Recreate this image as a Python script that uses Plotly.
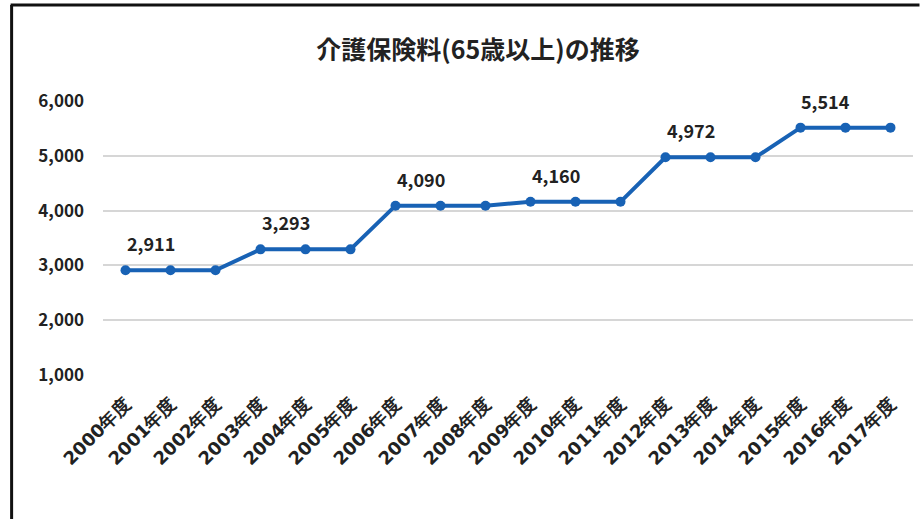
import plotly.graph_objects as go

years = [f"{y}年度" for y in range(2000, 2018)]
premiums = [2911, 2911, 2911, 3293, 3293, 3293, 4090, 4090, 4090,
            4160, 4160, 4160, 4972, 4972, 4972, 5514, 5514, 5514]
label_idx = [0, 3, 6, 9, 12, 15]
y_ticks = [1000, 2000, 3000, 4000, 5000, 6000]

FONT = "Noto Sans CJK JP"
BLUE = "#1862b5"

fig = go.Figure()
fig.add_trace(go.Scatter(
    x=years, y=premiums, mode="lines+markers",
    line=dict(color=BLUE, width=4),
    marker=dict(color=BLUE, size=10),
    showlegend=False, hoverinfo="x+y",
))

for i in label_idx:
    fig.add_annotation(
        x=years[i], y=premiums[i], text=f"{premiums[i]:,}",
        showarrow=False, xshift=25, yshift=27,
        font=dict(family=FONT, size=18, color="#222222", weight="bold"),
    )

# frame lines (left and top) like the cropped screenshot border
PX0, PW, PY0, PH = 102.5, 811, 101, 274
def px(x):
    return (x - PX0) / PW
def py(y):
    return 1 - (y - PY0) / PH

fig.add_shape(type="line", xref="paper", yref="paper",
              x0=px(11), x1=px(11), y0=py(519), y1=py(5),
              line=dict(color="#111111", width=3))
fig.add_shape(type="line", xref="paper", yref="paper",
              x0=px(10), x1=px(920), y0=py(5), y1=py(5),
              line=dict(color="#111111", width=3))

fig.update_layout(
    width=920, height=519,
    margin=dict(l=102.5, r=6.5, t=101, b=144),
    paper_bgcolor="white", plot_bgcolor="white",
    title=dict(text="介護保険料(65歳以上)の推移", x=478 / 920, xanchor="center",
               y=1 - 50 / 519, yanchor="middle", yref="container",
               font=dict(family=FONT, size=25, color="#222222", weight="bold")),
    xaxis=dict(
        type="category", tickangle=-45, showgrid=False, showline=False,
        ticks="", zeroline=False, range=[-0.5, 17.5],
        ticklabelstandoff=14,
        tickfont=dict(family="DejaVu Sans", size=18,
                      color="#222222", weight="bold"),
    ),
    yaxis=dict(
        range=[1000, 6000], tickvals=y_ticks, tickformat=",",
        showgrid=True, gridcolor="#d6d6d6", gridwidth=1.5,
        zeroline=False, showline=False, ticks="",
        ticklabelstandoff=18,
        tickfont=dict(family=FONT, size=17, color="#222222", weight="bold"),
    ),
)

fig.write_html("out.html")
